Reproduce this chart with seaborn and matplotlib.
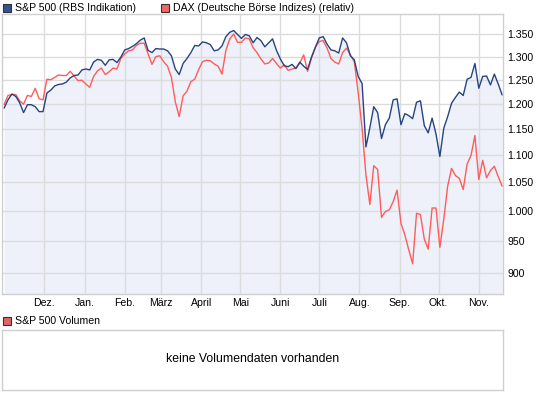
import matplotlib
matplotlib.use("Agg")
import matplotlib.pyplot as plt
from matplotlib.ticker import FixedLocator, FixedFormatter, NullLocator
from matplotlib.patches import Rectangle
import seaborn as sns
import pandas as pd
import numpy as np

sns.set_theme(style="white")
plt.rcParams["font.family"] = ["Liberation Sans", "DejaVu Sans"]

# ---------------- data ----------------
start_date = "2010-10-31"
step = "3D"

sp500 = [1191, 1208, 1220, 1215, 1202, 1182, 1198, 1198, 1194, 1184,
         1184, 1222, 1228, 1237, 1240, 1241, 1245, 1254, 1259, 1260,
         1271, 1273, 1271, 1288, 1294, 1292, 1281, 1293, 1294, 1287,
         1299, 1315, 1318, 1323, 1329, 1337, 1342, 1314, 1309, 1318,
         1317, 1317, 1313, 1302, 1273, 1261, 1285, 1296, 1309, 1325,
         1324, 1333, 1331, 1327, 1313, 1315, 1324, 1345, 1355, 1359,
         1350, 1341, 1350, 1347, 1331, 1343, 1336, 1322, 1331, 1340,
         1314, 1295, 1280, 1278, 1283, 1274, 1288, 1279, 1272, 1299,
         1321, 1342, 1345, 1328, 1315, 1313, 1308, 1342, 1331, 1302,
         1293, 1257, 1242, 1115, 1152, 1194, 1182, 1131, 1158, 1171,
         1208, 1210, 1158, 1180, 1176, 1170, 1203, 1206, 1156, 1142,
         1171, 1140, 1097, 1151, 1174, 1201, 1213, 1224, 1217, 1251,
         1255, 1285, 1232, 1257, 1258, 1239, 1262, 1241, 1218]

dax_rel = [1198, 1217, 1219, 1219, 1206, 1199, 1217, 1215, 1232, 1210,
           1208, 1251, 1250, 1255, 1260, 1259, 1259, 1268, 1258, 1248,
           1249, 1241, 1234, 1257, 1269, 1275, 1261, 1267, 1275, 1273,
           1296, 1306, 1313, 1315, 1325, 1330, 1330, 1306, 1283, 1300,
           1302, 1289, 1279, 1255, 1204, 1174, 1216, 1226, 1246, 1251,
           1272, 1289, 1292, 1291, 1284, 1279, 1262, 1314, 1340, 1351,
           1332, 1332, 1342, 1340, 1320, 1309, 1295, 1284, 1286, 1296,
           1285, 1275, 1282, 1270, 1273, 1275, 1286, 1304, 1268, 1297,
           1321, 1334, 1336, 1319, 1296, 1288, 1284, 1309, 1319, 1304,
           1289, 1223, 1151, 1063, 1011, 1080, 1073, 989, 999, 1002,
           1016, 1036, 979, 960, 936, 914, 996, 994, 953, 937,
           1005, 1005, 940, 986, 1043, 1075, 1062, 1057, 1037, 1083,
           1099, 1137, 1055, 1090, 1058, 1071, 1079, 1060, 1043]

series_names = ["S&P 500 (RBS Indikation)", "DAX (Deutsche Börse Indizes) (relativ)"]
volume_name = "S&P 500 Volumen"
no_volume_text = "keine Volumendaten vorhanden"

month_ticks = ["2010-12-01", "2011-01-01", "2011-02-01", "2011-03-01", "2011-04-01",
               "2011-05-01", "2011-06-01", "2011-07-01", "2011-08-01", "2011-09-01",
               "2011-10-01", "2011-11-01"]
month_labels = ["Dez.", "Jan.", "Feb.", "März", "April", "Mai", "Juni", "Juli",
                "Aug.", "Sep.", "Okt.", "Nov."]
y_ticks = [900, 950, 1000, 1050, 1100, 1150, 1200, 1250, 1300, 1350]
y_labels = ["900", "950", "1.000", "1.050", "1.100", "1.150", "1.200", "1.250",
            "1.300", "1.350"]

# ---------------- styling ----------------
BLUE = "#26447f"
RED = "#ff5c5c"
FILL = "#eef1f9"
GRID = "#dcdcdc"
FRAME = "#cfcfcf"
FS = 7.6

n = len(sp500)
dates = pd.date_range(start_date, periods=n, freq=step)
df = pd.DataFrame({
    "Datum": list(dates) + list(dates),
    "Wert": sp500 + dax_rel,
    "Reihe": [series_names[0]] * n + [series_names[1]] * n,
})

W, H = 545, 398
fig = plt.figure(figsize=(W / 100, H / 100), dpi=100)
fig.patch.set_facecolor("white")

ax = fig.add_axes([2 / W, 1 - 293.5 / H, 501 / W, 280 / H])
ax.set_facecolor("white")
ax.set_yscale("log")
ax.set_ylim(869, 1399)
ax.set_xlim(pd.Timestamp("2010-10-29 09:00"), pd.Timestamp("2011-11-19 16:00"))

ax.fill_between(dates, sp500, ax.get_ylim()[0], color=FILL, lw=0, zorder=0.2)
sns.lineplot(data=df, x="Datum", y="Wert", hue="Reihe",
             hue_order=[series_names[1], series_names[0]],
             palette={series_names[0]: BLUE, series_names[1]: RED},
             legend=False, linewidth=1.0, ax=ax)

ax.set_axisbelow(True)
ax.grid(True, color=GRID, linewidth=1.0)
ax.yaxis.set_major_locator(FixedLocator(y_ticks))
ax.yaxis.set_major_formatter(FixedFormatter(y_labels))
ax.yaxis.set_minor_locator(NullLocator())
ax.yaxis.tick_right()
ax.set_xticks(pd.to_datetime(month_ticks))
ax.set_xticklabels(month_labels)
ax.tick_params(axis="both", length=0, labelsize=FS, colors="black")
ax.tick_params(axis="y", pad=3)
ax.tick_params(axis="x", pad=3.5)
ax.set_xlabel("")
ax.set_ylabel("")
for s in ax.spines.values():
    s.set_color(FRAME)
    s.set_linewidth(1.0)

# top legend
def legend_item(x, y, color, label):
    fig.add_artist(Rectangle((x / W, 1 - (y + 4) / H), 8 / W, 8 / H,
                             transform=fig.transFigure, facecolor=color,
                             edgecolor="#333333", linewidth=0.8))
    fig.text((x + 12) / W, 1 - y / H, label, ha="left", va="center",
             fontsize=FS, color="black")

legend_item(3, 8, "#34548f", series_names[0])
legend_item(161, 8, "#f46464", series_names[1])

# volume panel
ax2 = fig.add_axes([2 / W, 1 - 389.5 / H, 501 / W, 60 / H])
ax2.set_facecolor("white")
ax2.set_xticks([])
ax2.set_yticks([])
for s in ax2.spines.values():
    s.set_color(FRAME)
    s.set_linewidth(1.0)
ax2.text(0.5, 0.5, no_volume_text, ha="center", va="center", fontsize=8.8,
         transform=ax2.transAxes, color="black")
legend_item(3, 321, "#e06666", volume_name)

fig.savefig("out.png", dpi=100, facecolor="white")
